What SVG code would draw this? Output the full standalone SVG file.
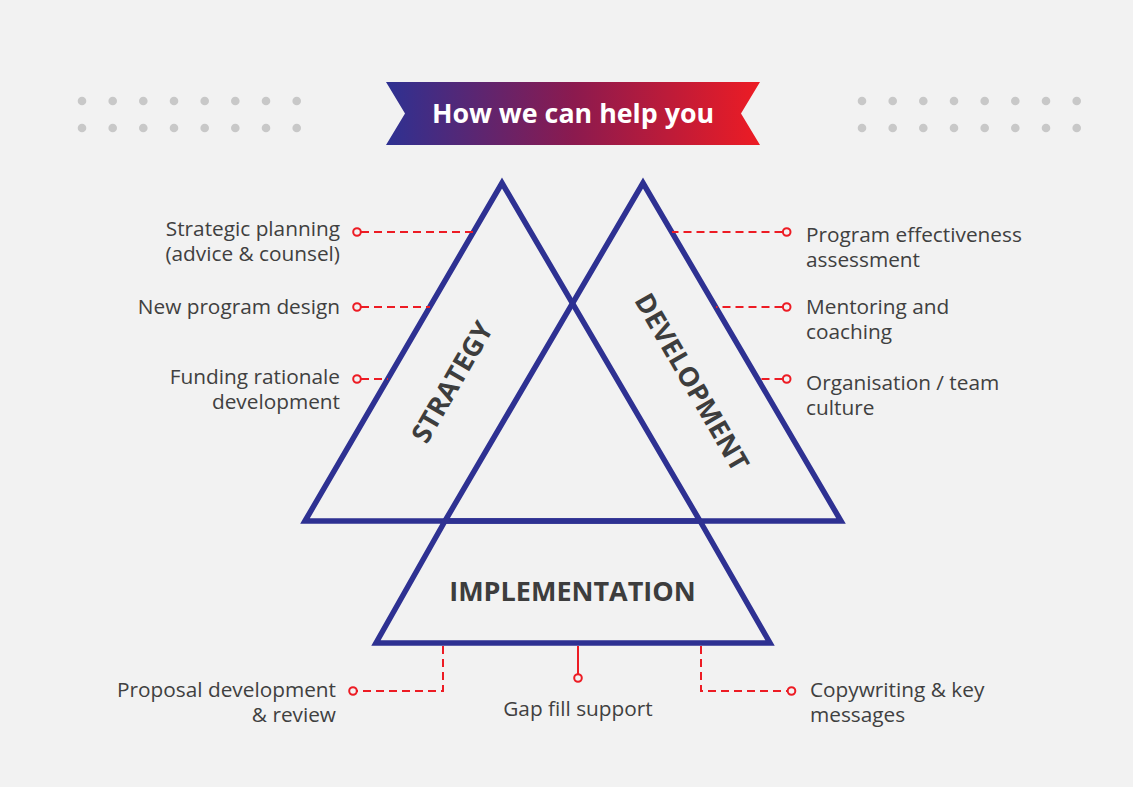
<svg xmlns="http://www.w3.org/2000/svg" width="1133" height="787" viewBox="0 0 1133 787">
<defs>
<linearGradient id="ribbon" x1="0" y1="0" x2="1" y2="0">
<stop offset="0" stop-color="#2e3192"/>
<stop offset="0.5" stop-color="#8b1a4f"/>
<stop offset="1" stop-color="#ed1c24"/>
</linearGradient>
<style>
.tri{fill:none;stroke:#2e3192;stroke-width:5.5;stroke-linejoin:miter}
.dot{fill:#c8c8c8}
.lbl{font-family:"Open Sans","Liberation Sans",sans-serif;font-size:20.8px;fill:#404040}
.big{font-family:"Open Sans","Liberation Sans",sans-serif;font-size:27px;font-weight:bold;fill:#3d3d3d}
.dash{fill:none;stroke:#ed1c24;stroke-width:2;stroke-dasharray:8 5}
.solid{fill:none;stroke:#ed1c24;stroke-width:2}
.end{fill:#f2f2f2;stroke:#ed1c24;stroke-width:2}
</style>
</defs>
<rect width="1133" height="787" fill="#f2f2f2"/>
<g id="dots-left">
<circle class="dot" cx="82" cy="101" r="4.3"/><circle class="dot" cx="112.7" cy="101" r="4.3"/><circle class="dot" cx="143.3" cy="101" r="4.3"/><circle class="dot" cx="174" cy="101" r="4.3"/><circle class="dot" cx="204.7" cy="101" r="4.3"/><circle class="dot" cx="235.3" cy="101" r="4.3"/><circle class="dot" cx="266" cy="101" r="4.3"/><circle class="dot" cx="296.7" cy="101" r="4.3"/>
<circle class="dot" cx="82" cy="128" r="4.3"/><circle class="dot" cx="112.7" cy="128" r="4.3"/><circle class="dot" cx="143.3" cy="128" r="4.3"/><circle class="dot" cx="174" cy="128" r="4.3"/><circle class="dot" cx="204.7" cy="128" r="4.3"/><circle class="dot" cx="235.3" cy="128" r="4.3"/><circle class="dot" cx="266" cy="128" r="4.3"/><circle class="dot" cx="296.7" cy="128" r="4.3"/>
</g>
<g id="dots-right">
<circle class="dot" cx="862" cy="101" r="4.3"/><circle class="dot" cx="892.7" cy="101" r="4.3"/><circle class="dot" cx="923.3" cy="101" r="4.3"/><circle class="dot" cx="954" cy="101" r="4.3"/><circle class="dot" cx="984.7" cy="101" r="4.3"/><circle class="dot" cx="1015.3" cy="101" r="4.3"/><circle class="dot" cx="1046" cy="101" r="4.3"/><circle class="dot" cx="1076.7" cy="101" r="4.3"/>
<circle class="dot" cx="862" cy="128" r="4.3"/><circle class="dot" cx="892.7" cy="128" r="4.3"/><circle class="dot" cx="923.3" cy="128" r="4.3"/><circle class="dot" cx="954" cy="128" r="4.3"/><circle class="dot" cx="984.7" cy="128" r="4.3"/><circle class="dot" cx="1015.3" cy="128" r="4.3"/><circle class="dot" cx="1046" cy="128" r="4.3"/><circle class="dot" cx="1076.7" cy="128" r="4.3"/>
</g>
<g id="title">
<polygon points="386,82 760,82 741,113.5 760,145 386,145 405,113.5" fill="url(#ribbon)"/>
<text x="573" y="123" text-anchor="middle" font-family="'Open Sans','Liberation Sans',sans-serif" font-size="26.8" font-weight="bold" fill="#ffffff">How we can help you</text>
</g>
<g id="strategy">
<polygon class="tri" points="305,521 502,183 700,521"/>
<text class="big" text-anchor="middle" transform="translate(452,382) rotate(-60)" x="0" y="9.6">STRATEGY</text>
</g>
<g id="development">
<polygon class="tri" points="445,521 643,183 841,521"/>
<text class="big" text-anchor="middle" transform="translate(692,382) rotate(60)" x="0" y="9.6">DEVELOPMENT</text>
</g>
<g id="implementation">
<path class="tri" d="M445,521 L376,643 L770,643 L700,521"/>
<text class="big" x="572.5" y="601" text-anchor="middle">IMPLEMENTATION</text>
</g>
<g id="connectors">
<line class="dash" x1="361" y1="232" x2="473" y2="232"/>
<line class="dash" x1="361" y1="307" x2="430" y2="307"/>
<line class="dash" x1="361" y1="379" x2="388" y2="379"/>
<line class="dash" x1="782.5" y1="232" x2="672" y2="232"/>
<line class="dash" x1="782.5" y1="307" x2="716" y2="307"/>
<line class="dash" x1="782.5" y1="379" x2="758" y2="379"/>
<path class="dash" d="M443,646 V691 H357"/>
<line class="solid" x1="578" y1="646" x2="578" y2="674"/>
<path class="dash" d="M701,646 V691 H787"/>
<circle class="end" cx="357" cy="232" r="3.8"/>
<circle class="end" cx="357" cy="307" r="3.8"/>
<circle class="end" cx="357" cy="379" r="3.8"/>
<circle class="end" cx="786.7" cy="232" r="3.8"/>
<circle class="end" cx="786.7" cy="307" r="3.8"/>
<circle class="end" cx="786.7" cy="379" r="3.8"/>
<circle class="end" cx="353" cy="691" r="3.8"/>
<circle class="end" cx="578" cy="678" r="3.8"/>
<circle class="end" cx="791.5" cy="691" r="3.8"/>
</g>
<g id="label-strategic-planning"><text class="lbl" text-anchor="end" x="340" y="236">Strategic planning</text><text class="lbl" text-anchor="end" x="340" y="260.5">(advice &amp; counsel)</text></g>
<g id="label-new-program"><text class="lbl" text-anchor="end" x="340" y="314">New program design</text></g>
<g id="label-funding"><text class="lbl" text-anchor="end" x="340" y="384">Funding rationale</text><text class="lbl" text-anchor="end" x="340" y="408.5">development</text></g>
<g id="label-effectiveness"><text class="lbl" x="806" y="242">Program effectiveness</text><text class="lbl" x="806" y="267">assessment</text></g>
<g id="label-mentoring"><text class="lbl" x="806" y="314">Mentoring and</text><text class="lbl" x="806" y="339">coaching</text></g>
<g id="label-culture"><text class="lbl" x="806" y="390">Organisation / team</text><text class="lbl" x="806" y="414.5">culture</text></g>
<g id="label-proposal"><text class="lbl" text-anchor="end" x="336" y="697">Proposal development</text><text class="lbl" text-anchor="end" x="336" y="721.5">&amp; review</text></g>
<g id="label-gap"><text class="lbl" text-anchor="middle" x="578" y="716">Gap fill support</text></g>
<g id="label-copywriting"><text class="lbl" x="810" y="697">Copywriting &amp; key</text><text class="lbl" x="810" y="721.5">messages</text></g>
</svg>
